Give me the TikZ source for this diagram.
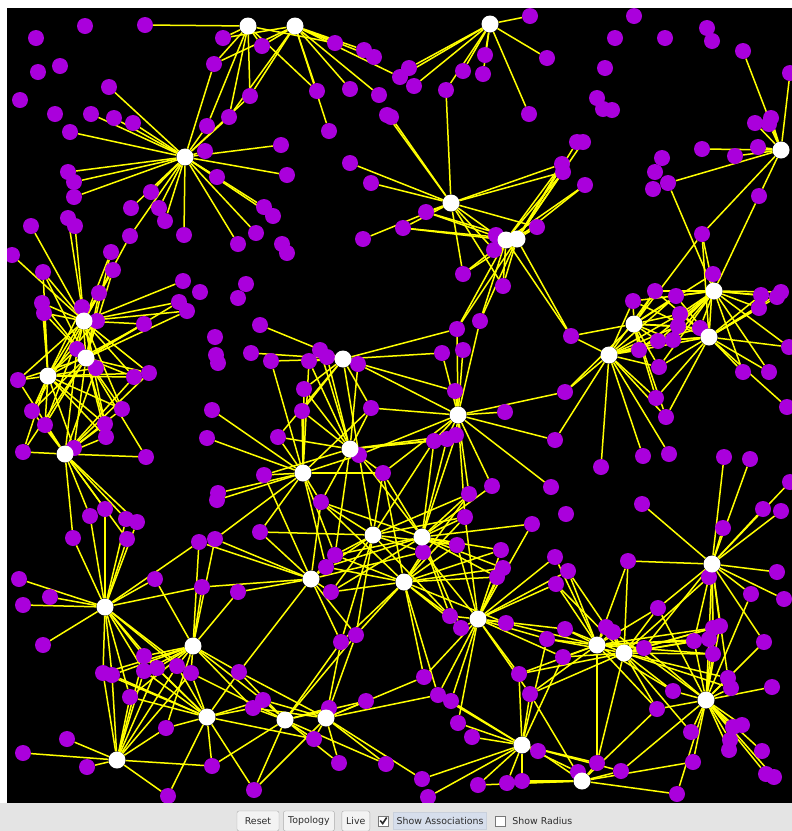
\documentclass[tikz,border=0pt]{standalone}
\usepackage{fontspec}
\setmainfont{DejaVu Sans}
\usetikzlibrary{positioning}
\definecolor{nwpurple}{RGB}{170,0,220}
\definecolor{nwyellow}{RGB}{255,255,0}
\definecolor{nwbar}{RGB}{228,228,228}
\definecolor{nwbtn}{RGB}{243,243,243}
\definecolor{nwedge}{RGB}{172,172,172}
\definecolor{nwtext}{RGB}{45,45,45}
\definecolor{nwfocus}{RGB}{214,222,236}
\pgfdeclarelayer{back}
\pgfdeclarelayer{links}
\pgfdeclarelayer{top}
\pgfdeclarelayer{panel}
\pgfsetlayers{back,links,main,top,panel}
\def\nwhubs{248/26,295/26,490/24,185/157,781/150,451/203,506/240,517/239,84/321,86/358,48/376,65/454,343/359,458/415,350/449,303/473,714/291,634/324,709/337,609/355,373/535,422/537,311/579,404/582,712/564,105/607,193/646,478/619,597/645,624/653,207/717,285/720,326/718,706/700,117/760,522/745,582/781}
\def\nwpeers{85/26, 145/25, 36/38, 223/38, 262/46, 214/64, 60/66, 38/72, 109/87, 20/100, 250/96, 55/114, 91/114, 114/118, 133/123, 70/132, 207/126, 229/117, 205/151, 68/172, 74/182, 74/197, 217/177, 151/192, 131/208, 159/208, 165/221, 130/236, 184/235, 238/244, 256/233, 264/207, 273/216, 281/145, 287/175, 31/226, 68/218, 75/226, 12/255, 43/272, 111/252, 113/270, 183/281, 246/284,
  335/43, 364/50, 374/57, 317/91, 329/131, 350/89, 379/95, 409/68, 400/77, 414/86, 463/71, 485/55, 483/74, 446/90, 529/114, 387/115, 391/117, 350/163, 371/183, 426/212, 403/228, 363/239, 496/235, 494/250, 463/274, 282/244, 287/253, 530/16,
  634/16, 615/38, 665/38, 707/28, 712/41, 547/58, 743/51, 605/68, 790/73, 597/98, 603/109, 612/110, 755/123, 771/118, 769/124, 577/142, 583/142, 702/149, 758/147, 735/156, 662/158, 655/172, 668/183, 653/189, 562/164, 563/172, 585/185, 759/196, 537/227, 702/234, 713/274,
  200/292, 99/293, 238/298, 42/303, 44/313, 179/302, 187/311, 82/307, 97/321, 144/324, 260/325, 215/337, 251/353, 271/361, 216/355, 218/363, 77/349, 96/368, 18/380, 134/377, 149/373, 32/411, 122/409, 45/425, 105/424, 106/437, 74/448, 23/452, 146/457, 212/410, 207/438, 264/475, 218/493, 217/500, 105/509, 90/516, 126/519, 137/522, 73/538, 127/539, 260/532, 199/542, 215/539,
  503/286, 480/321, 457/329, 442/353, 463/350, 320/350, 327/357, 309/361, 358/364, 455/391, 304/389, 302/411, 371/408, 505/412, 278/437, 434/441, 447/439, 456/435, 359/455, 383/473, 492/486, 469/494, 321/502, 465/517, 457/545, 532/524, 501/550,
  655/291, 633/301, 676/296, 761/295, 759/308, 781/292, 777/297, 680/314, 678/326, 700/328, 658/341, 673/340, 639/350, 571/336, 789/347, 659/367, 743/372, 769/372, 565/392, 656/398, 666/417, 787/407, 555/440, 643/456, 669/454, 724/457, 750/459, 601/467, 790/482, 551/487, 642/504, 566/514, 763/509, 781/511, 723/528,
  19/579, 155/579, 50/597, 202/587, 238/592, 23/605, 43/645, 144/656, 103/673, 112/675, 144/671, 157/668, 177/666, 191/673, 239/672, 130/697, 263/700, 253/708, 166/728, 67/739, 23/753, 87/767, 212/766, 168/796, 254/790,
  335/555, 326/567, 423/552, 503/568, 497/577, 331/592, 450/616, 461/628, 506/623, 341/642, 356/635, 424/677, 519/674, 530/694, 438/695, 451/701, 366/701, 329/708, 458/723, 472/737, 314/739, 339/763, 386/764, 422/779, 478/785, 507/783, 522/781, 428/797,
  555/557, 568/571, 556/584, 628/561, 709/577, 777/572, 784/599, 751/594, 658/608, 565/629, 547/639, 606/627, 613/632, 644/648, 694/641, 709/639, 713/628, 720/626, 713/654, 764/642, 563/657, 673/691, 728/678, 731/688, 772/687, 657/709, 691/732, 733/727, 742/725, 730/740, 729/750, 762/751, 766/774, 774/777, 538/751, 597/763, 578/772, 621/771, 693/762, 677/794}
\begin{document}
\begin{tikzpicture}[x=1pt, y=-1pt,
  hub/.style={circle, fill=white, inner sep=0pt, minimum size=17pt},
  peer/.style={circle, fill=nwpurple, inner sep=0pt, minimum size=16pt},
  assoc/.style={draw=nwyellow, line width=1.5pt},
  btn/.style={rectangle, draw=nwedge, fill=nwbtn, rounded corners=2pt, minimum height=20pt, inner xsep=3pt, font=\fontsize{9.4}{11}\selectfont, text=nwtext},
  tick/.style={rectangle, draw=nwedge!70!black, fill=white, minimum size=10pt, inner sep=0pt},
  lbl/.style={rectangle, font=\fontsize{9.4}{11}\selectfont, text=nwtext, inner sep=1pt, minimum height=17pt}
]
\useasboundingbox (0,0) rectangle (792,831);
\begin{pgfonlayer}{back}
\fill[black] (7,8) rectangle (792,803);
\end{pgfonlayer}
\begin{pgfonlayer}{top}
\foreach \hx/\hy [count=\k] in \nwhubs
  \node[hub] (h\k) at (\hx,\hy) {};
\end{pgfonlayer}
\foreach \px/\py [count=\i] in \nwpeers
  \node[peer] (p\i) at (\px,\py) {};
\begin{pgfonlayer}{links}
\foreach \px/\py [count=\i] in \nwpeers {
  \foreach \hx/\hy [count=\k] in \nwhubs {
    \pgfmathtruncatemacro\nwnear{veclen((\px-\hx)/10,(\py-\hy)/10)<11.8}
    \ifnum\nwnear=1 \draw[assoc] (p\i) -- (h\k); \fi
  }
}
\end{pgfonlayer}
\begin{pgfonlayer}{panel}
\fill[white] (0,0) rectangle (7,803);
\fill[white] (0,0) rectangle (792,8);
\fill[nwbar] (0,803) rectangle (792,831);
\node[btn, minimum width=42pt] (reset) at (258,821) {Reset};
\node[btn, minimum width=51pt, right=4pt of reset] (topology) {Topology};
\node[btn, minimum width=28pt, right=7pt of topology] (live) {Live};
\node[tick, right=8pt of live] (assocbox) {};
\draw[nwtext, line width=1.6pt] ([xshift=-3pt,yshift=0.5pt]assocbox.center) -- ([xshift=-0.5pt,yshift=-2.5pt]assocbox.center) -- ([xshift=3.5pt,yshift=3.5pt]assocbox.center);
\node[lbl, fill=nwfocus, draw=nwfocus!85!gray, minimum width=93pt, right=5pt of assocbox] (showassoc) {Show Associations};
\node[tick, right=8pt of showassoc] (radiusbox) {};
\node[lbl, right=6pt of radiusbox] (showradius) {Show Radius};
\end{pgfonlayer}
\end{tikzpicture}
\end{document}
